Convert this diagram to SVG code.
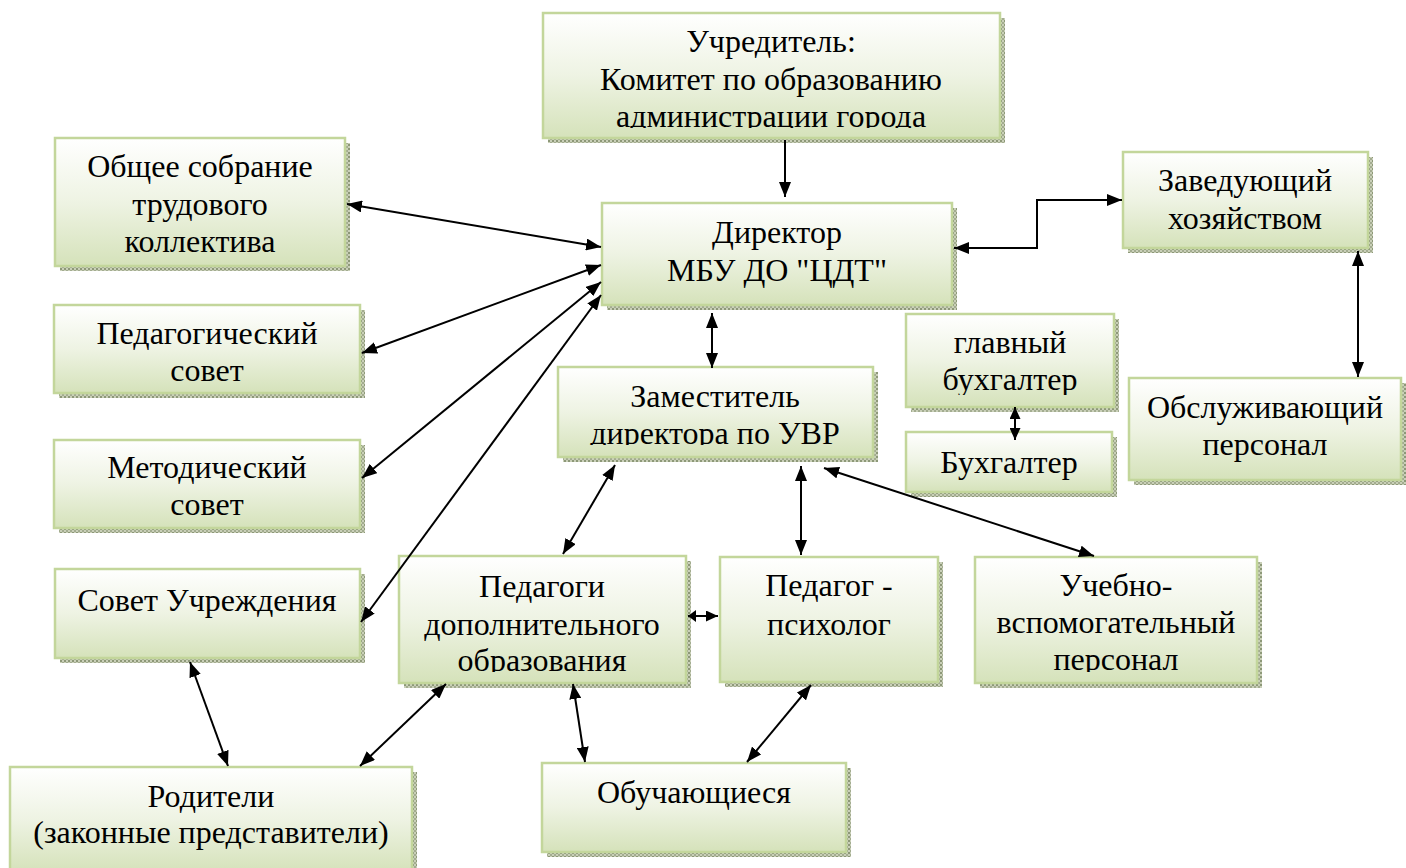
<svg xmlns="http://www.w3.org/2000/svg" width="1406" height="868" viewBox="0 0 1406 868">
<defs>
<linearGradient id="g" x1="0" y1="0" x2="0" y2="1">
<stop offset="0" stop-color="#ffffff"/>
<stop offset="0.5" stop-color="#eef3e3"/>
<stop offset="1" stop-color="#d5e2ba"/>
</linearGradient>
<pattern id="sh" width="4" height="4" patternUnits="userSpaceOnUse">
<rect width="4" height="4" fill="#c9cfb8"/>
<rect width="2" height="2" fill="#8d9878"/>
<rect x="2" y="2" width="2" height="2" fill="#a3ac90"/>
</pattern>
<marker id="ah" viewBox="0 0 15 12" refX="15" refY="6" markerWidth="7.5" markerHeight="6" markerUnits="strokeWidth" orient="auto-start-reverse">
<path d="M0,0 L15,6 L0,12 z" fill="#000"/>
</marker>
<marker id="ahs" viewBox="0 0 15 12" refX="15" refY="6" markerWidth="4" markerHeight="6" markerUnits="strokeWidth" orient="auto-start-reverse" preserveAspectRatio="none">
<path d="M0,0 L15,6 L0,12 z" fill="#000"/>
</marker>
<marker id="ahm" viewBox="0 0 15 12" refX="15" refY="6" markerWidth="6" markerHeight="5.5" markerUnits="strokeWidth" orient="auto-start-reverse" preserveAspectRatio="none">
<path d="M0,0 L15,6 L0,12 z" fill="#000"/>
</marker>
<clipPath id="c1"><rect x="543" y="13" width="457" height="115"/></clipPath>
<clipPath id="c9"><rect x="558" y="367" width="315" height="78"/></clipPath>
<clipPath id="c10"><rect x="906" y="314" width="208" height="81"/></clipPath>
<clipPath id="c13"><rect x="399" y="556" width="287" height="116"/></clipPath>
<clipPath id="c15"><rect x="975" y="557" width="282" height="115"/></clipPath>
</defs>
<style>
.shadow{fill:url(#sh);}
.box{fill:url(#g);stroke:#c3d69b;stroke-width:2.5;}
.t{font-family:"Liberation Serif","Times New Roman",serif;font-size:32px;fill:#000;text-anchor:middle;}
.c{fill:none;stroke:#000;stroke-width:2;marker-start:url(#ah);marker-end:url(#ah);}
.c1{fill:none;stroke:#000;stroke-width:2;marker-end:url(#ah);}
</style>
<rect width="1406" height="868" fill="#fff"/>

<g id="n-uchreditel">
<rect class="shadow" x="548" y="18" width="457" height="125"/>
<rect class="box" x="543" y="13" width="457" height="125"/>
<g clip-path="url(#c1)">
<text class="t" x="771" y="52">Учредитель:</text>
<text class="t" x="771" y="90">Комитет по образованию</text>
<text class="t" x="771" y="127">администрации города</text>
</g>
</g>

<g id="n-obshchee">
<rect class="shadow" x="60" y="143" width="290" height="128"/>
<rect class="box" x="55" y="138" width="290" height="128"/>
<text class="t" x="200" y="177">Общее собрание</text>
<text class="t" x="200" y="215">трудового</text>
<text class="t" x="200" y="252">коллектива</text>
</g>

<g id="n-direktor">
<rect class="shadow" x="607" y="208" width="350" height="102"/>
<rect class="box" x="602" y="203" width="350" height="102"/>
<text class="t" x="777" y="243">Директор</text>
<text class="t" x="777" y="281">МБУ ДО "ЦДТ"</text>
</g>

<g id="n-zavhoz">
<rect class="shadow" x="1128" y="157" width="245" height="96"/>
<rect class="box" x="1123" y="152" width="245" height="96"/>
<text class="t" x="1245" y="191">Заведующий</text>
<text class="t" x="1245" y="229">хозяйством</text>
</g>

<g id="n-pedsovet">
<rect class="shadow" x="59" y="310" width="306" height="88"/>
<rect class="box" x="54" y="305" width="306" height="88"/>
<text class="t" x="207" y="344">Педагогический</text>
<text class="t" x="207" y="381">совет</text>
</g>

<g id="n-metodsovet">
<rect class="shadow" x="59" y="445" width="306" height="88"/>
<rect class="box" x="54" y="440" width="306" height="88"/>
<text class="t" x="207" y="478">Методический</text>
<text class="t" x="207" y="515">совет</text>
</g>

<g id="n-sovet">
<rect class="shadow" x="60" y="574" width="305" height="89"/>
<rect class="box" x="55" y="569" width="305" height="89"/>
<text class="t" x="207" y="611">Совет Учреждения</text>
</g>

<g id="n-roditeli">
<rect class="shadow" x="15" y="772" width="402" height="100"/>
<rect class="box" x="10" y="767" width="402" height="105"/>
<text class="t" x="211" y="807">Родители</text>
<text class="t" x="211" y="843">(законные представители)</text>
</g>

<g id="n-zam">
<rect class="shadow" x="563" y="372" width="315" height="90"/>
<rect class="box" x="558" y="367" width="315" height="90"/>
<g clip-path="url(#c9)">
<text class="t" x="715" y="407">Заместитель</text>
<text class="t" x="715" y="444">директора по УВР</text>
</g>
</g>

<g id="n-glavbuh">
<rect class="shadow" x="911" y="319" width="208" height="93"/>
<rect class="box" x="906" y="314" width="208" height="93"/>
<g clip-path="url(#c10)">
<text class="t" x="1010" y="353">главный</text>
<text class="t" x="1010" y="390">бухгалтер</text>
</g>
</g>

<g id="n-buh">
<rect class="shadow" x="911" y="437" width="206" height="60"/>
<rect class="box" x="906" y="432" width="206" height="60"/>
<text class="t" x="1009" y="473">Бухгалтер</text>
</g>

<g id="n-obsl">
<rect class="shadow" x="1134" y="383" width="272" height="102"/>
<rect class="box" x="1129" y="378" width="272" height="102"/>
<text class="t" x="1265" y="418">Обслуживающий</text>
<text class="t" x="1265" y="455">персонал</text>
</g>

<g id="n-pedagogi">
<rect class="shadow" x="404" y="561" width="287" height="127"/>
<rect class="box" x="399" y="556" width="287" height="127"/>
<g clip-path="url(#c13)">
<text class="t" x="542" y="597">Педагоги</text>
<text class="t" x="542" y="635">дополнительного</text>
<text class="t" x="542" y="671">образования</text>
</g>
</g>

<g id="n-psiholog">
<rect class="shadow" x="725" y="562" width="218" height="125"/>
<rect class="box" x="720" y="557" width="218" height="125"/>
<text class="t" x="829" y="596">Педагог -</text>
<text class="t" x="829" y="635">психолог</text>
</g>

<g id="n-uchvsp">
<rect class="shadow" x="980" y="562" width="282" height="126"/>
<rect class="box" x="975" y="557" width="282" height="126"/>
<g clip-path="url(#c15)">
<text class="t" x="1116" y="596">Учебно-</text>
<text class="t" x="1116" y="633">вспомогательный</text>
<text class="t" x="1116" y="670">персонал</text>
</g>
</g>

<g id="n-obuch">
<rect class="shadow" x="547" y="768" width="304" height="89"/>
<rect class="box" x="542" y="763" width="304" height="89"/>
<text class="t" x="694" y="803">Обучающиеся</text>
</g>

<g id="connectors">
<line class="c1" x1="785" y1="140" x2="785" y2="197"/>
<line class="c" x1="347" y1="204" x2="601" y2="247"/>
<line class="c" x1="362" y1="353" x2="601" y2="265"/>
<line class="c" x1="362" y1="478" x2="601" y2="282"/>
<line class="c" x1="361" y1="622" x2="601" y2="295"/>
<polyline class="c" points="954,248 1037,248 1037,200 1122,200"/>
<line class="c" x1="1358" y1="251" x2="1358" y2="377"/>
<line fill="none" stroke="#000" stroke-width="2" marker-start="url(#ahm)" marker-end="url(#ahm)" x1="1015" y1="407" x2="1015" y2="440"/>
<line class="c" x1="712" y1="313" x2="712" y2="368"/>
<line class="c" x1="615" y1="465" x2="563" y2="554"/>
<line class="c" x1="801" y1="466" x2="801" y2="555"/>
<line class="c" x1="824" y1="468" x2="1094" y2="556"/>
<line fill="none" stroke="#000" stroke-width="2" marker-start="url(#ahs)" marker-end="url(#ahm)" x1="688" y1="616" x2="718" y2="616"/>
<line class="c" x1="573" y1="684" x2="585" y2="762"/>
<line class="c" x1="811" y1="685" x2="747" y2="762"/>
<line class="c" x1="446" y1="684" x2="360" y2="766"/>
<line class="c" x1="190" y1="662" x2="228" y2="766"/>
</g>
</svg>
